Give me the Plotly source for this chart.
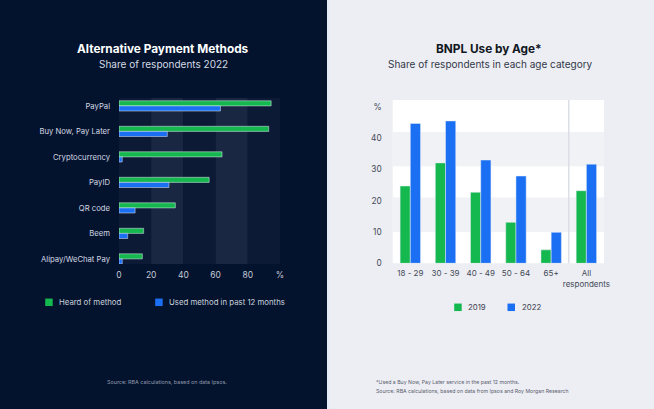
import plotly.graph_objects as go

# ---- data ----
methods = ["PayPal", "Buy Now, Pay Later", "Cryptocurrency", "PayID", "QR code", "Beem", "Alipay/WeChat Pay"]
heard = [94.5, 93, 64, 56, 35, 15.3, 14.5]
used = [63, 30, 2, 31, 10, 5.4, 2]

ages = ["18 - 29", "30 - 39", "40 - 49", "50 - 64", "65+", "All<br>respondents"]
bnpl_2019 = [24.7, 32.1, 22.7, 13.1, 4.3, 23.2]
bnpl_2022 = [44.7, 45.5, 33.0, 27.9, 9.9, 31.7]

left_ticks = [0, 20, 40, 60, 80, 100]
left_ticktext = ["0", "20", "40", "60", "80", "%"]
right_ticks = [0, 10, 20, 30, 40, 50]
right_ticktext = ["0", "10", "20", "30", "40", "%"]

GREEN = "#14b84e"
BLUE = "#1a6ff3"
DARK_BG = "#04132d"
LIGHT_BG = "#eceef3"
FONT = "Inter"
W, H = 654, 409

fig = go.Figure()

fig.add_trace(go.Bar(y=methods, x=heard, orientation="h", marker_color=GREEN,
                     width=0.2, offset=-0.2, xaxis="x", yaxis="y", showlegend=False))
fig.add_trace(go.Bar(y=methods, x=used, orientation="h", marker_color=BLUE,
                     width=0.2, offset=0.0, xaxis="x", yaxis="y", showlegend=False))

fig.add_trace(go.Bar(x=ages, y=bnpl_2019, marker_color=GREEN,
                     width=0.29, offset=-0.29, xaxis="x2", yaxis="y2", showlegend=False))
fig.add_trace(go.Bar(x=ages, y=bnpl_2022, marker_color=BLUE,
                     width=0.29, offset=0.0, xaxis="x2", yaxis="y2", showlegend=False))

shapes = []
# panel backgrounds
shapes.append(dict(type="rect", xref="paper", yref="paper", x0=0, x1=327 / W, y0=0, y1=1,
                   fillcolor=DARK_BG, line_width=0, layer="below"))
shapes.append(dict(type="rect", xref="paper", yref="paper", x0=327 / W, x1=1, y0=0, y1=1,
                   fillcolor=LIGHT_BG, line_width=0, layer="below"))
shapes.append(dict(type="rect", xref="paper", yref="paper", x0=327 / W, x1=329.5 / W, y0=0, y1=1,
                   fillcolor="#e3eaf8", line_width=0, layer="below"))
# left bands
band_cols = ["#0d1a35", "#1a2742", "#0d1a35", "#1a2742", "#0d1a35"]
for i, c in enumerate(band_cols):
    shapes.append(dict(type="rect", xref="x", yref="y domain", x0=left_ticks[i], x1=left_ticks[i + 1],
                       y0=0, y1=1, fillcolor=c, line_width=0, layer="below"))
# right bands
shapes.append(dict(type="rect", xref="x2 domain", yref="y2 domain", x0=0, x1=1, y0=0, y1=1,
                   fillcolor="#ffffff", line_width=0, layer="below"))
for lo, hi in [(10, 21), (31, 42)]:
    shapes.append(dict(type="rect", xref="x2 domain", yref="y2", x0=0, x1=1, y0=lo, y1=hi,
                       fillcolor="#f1f2f5", line_width=0, layer="below"))
shapes.append(dict(type="line", xref="x2", yref="y2 domain", x0=4.5, x1=4.5, y0=0, y1=1,
                   line=dict(color="#dcdfe6", width=1.5), layer="below"))

# legend squares
def sq(x0, yc, color, s=7.5):
    return dict(type="rect", xref="paper", yref="paper", x0=x0 / W, x1=(x0 + s) / W,
                y0=1 - (yc + s / 2) / H, y1=1 - (yc - s / 2) / H, fillcolor=color, line_width=0)

shapes += [sq(45.2, 302.3, GREEN), sq(155.2, 302.3, BLUE), sq(454.2, 307.3, GREEN), sq(507.5, 307.3, BLUE)]

def ann(text, x, y, size, color, xanchor="center", bold=False):
    return dict(text=f"<b>{text}</b>" if bold else text, x=x / W, y=1 - y / H, xref="paper", yref="paper",
                showarrow=False, xanchor=xanchor, yanchor="middle",
                font=dict(family=FONT, size=size, color=color))

annotations = [
    ann("Alternative Payment Methods", 163, 49, 11.8, "#ffffff", bold=True),
    ann("Share of respondents 2022", 163.5, 63.5, 10, "#d5dae4"),
    ann("BNPL Use by Age*", 488.5, 49, 11.8, "#111722", bold=True),
    ann("Share of respondents in each age category", 490.5, 64, 10, "#33384a"),
    ann("Heard of method", 57, 302.3, 7.8, "#c9cfdb", xanchor="left"),
    ann("Used method in past 12 months", 167, 302.3, 7.8, "#c9cfdb", xanchor="left"),
    ann("2019", 466, 307.3, 7.8, "#3c4150", xanchor="left"),
    ann("2022", 519.5, 307.3, 7.8, "#3c4150", xanchor="left"),
    ann("Source: RBA calculations, based on data Ipsos.", 105, 382, 5.4, "#8f98ab", xanchor="left"),
    ann("*Used a Buy Now, Pay Later service in the past 12 months.", 373.5, 382, 5.2, "#5b6070", xanchor="left"),
    ann("Source: RBA calculations, based on data from Ipsos and Roy Morgan Research", 373.5, 390.5, 5.2, "#5b6070", xanchor="left"),
]

fig.update_layout(
    width=W, height=H,
    margin=dict(l=0, r=0, t=0, b=0, pad=0, autoexpand=False),
    paper_bgcolor=DARK_BG,
    plot_bgcolor="rgba(0,0,0,0)",
    font=dict(family=FONT),
    barmode="overlay",
    showlegend=False,
    shapes=shapes,
    annotations=annotations,
    xaxis=dict(domain=[119 / W, 280 / W], range=[0, 100], tickvals=left_ticks, ticktext=left_ticktext,
               showgrid=False, zeroline=False, showline=False, ticks="", fixedrange=True, automargin=False,
               tickfont=dict(family=FONT, size=8.5, color="#c3cad8"), ticklabelstandoff=4),
    yaxis=dict(domain=[1 - 264 / H, 1 - 98 / H], type="category", categoryorder="array",
               categoryarray=methods, range=[6.2, -0.31], showgrid=False, zeroline=False, automargin=False,
               showline=False, ticks="", tickfont=dict(family=FONT, size=7.7, color="#d3d8e3"),
               ticklabelstandoff=8),
    xaxis2=dict(domain=[392.7 / W, 604 / W], type="category", range=[-0.5, 5.5], anchor="y2",
                showgrid=False, zeroline=False, showline=False, ticks="", tickangle=0, automargin=False,
                tickfont=dict(family=FONT, size=8, color="#444957"), ticklabelstandoff=4),
    yaxis2=dict(domain=[1 - 263.3 / H, 1 - 100 / H], range=[0, 52.2], anchor="x2", automargin=False,
                tickvals=right_ticks, ticktext=right_ticktext, showgrid=False, zeroline=False,
                showline=False, ticks="", tickfont=dict(family=FONT, size=8.3, color="#444957"),
                ticklabelstandoff=10),
)

fig.write_html("out.html")
